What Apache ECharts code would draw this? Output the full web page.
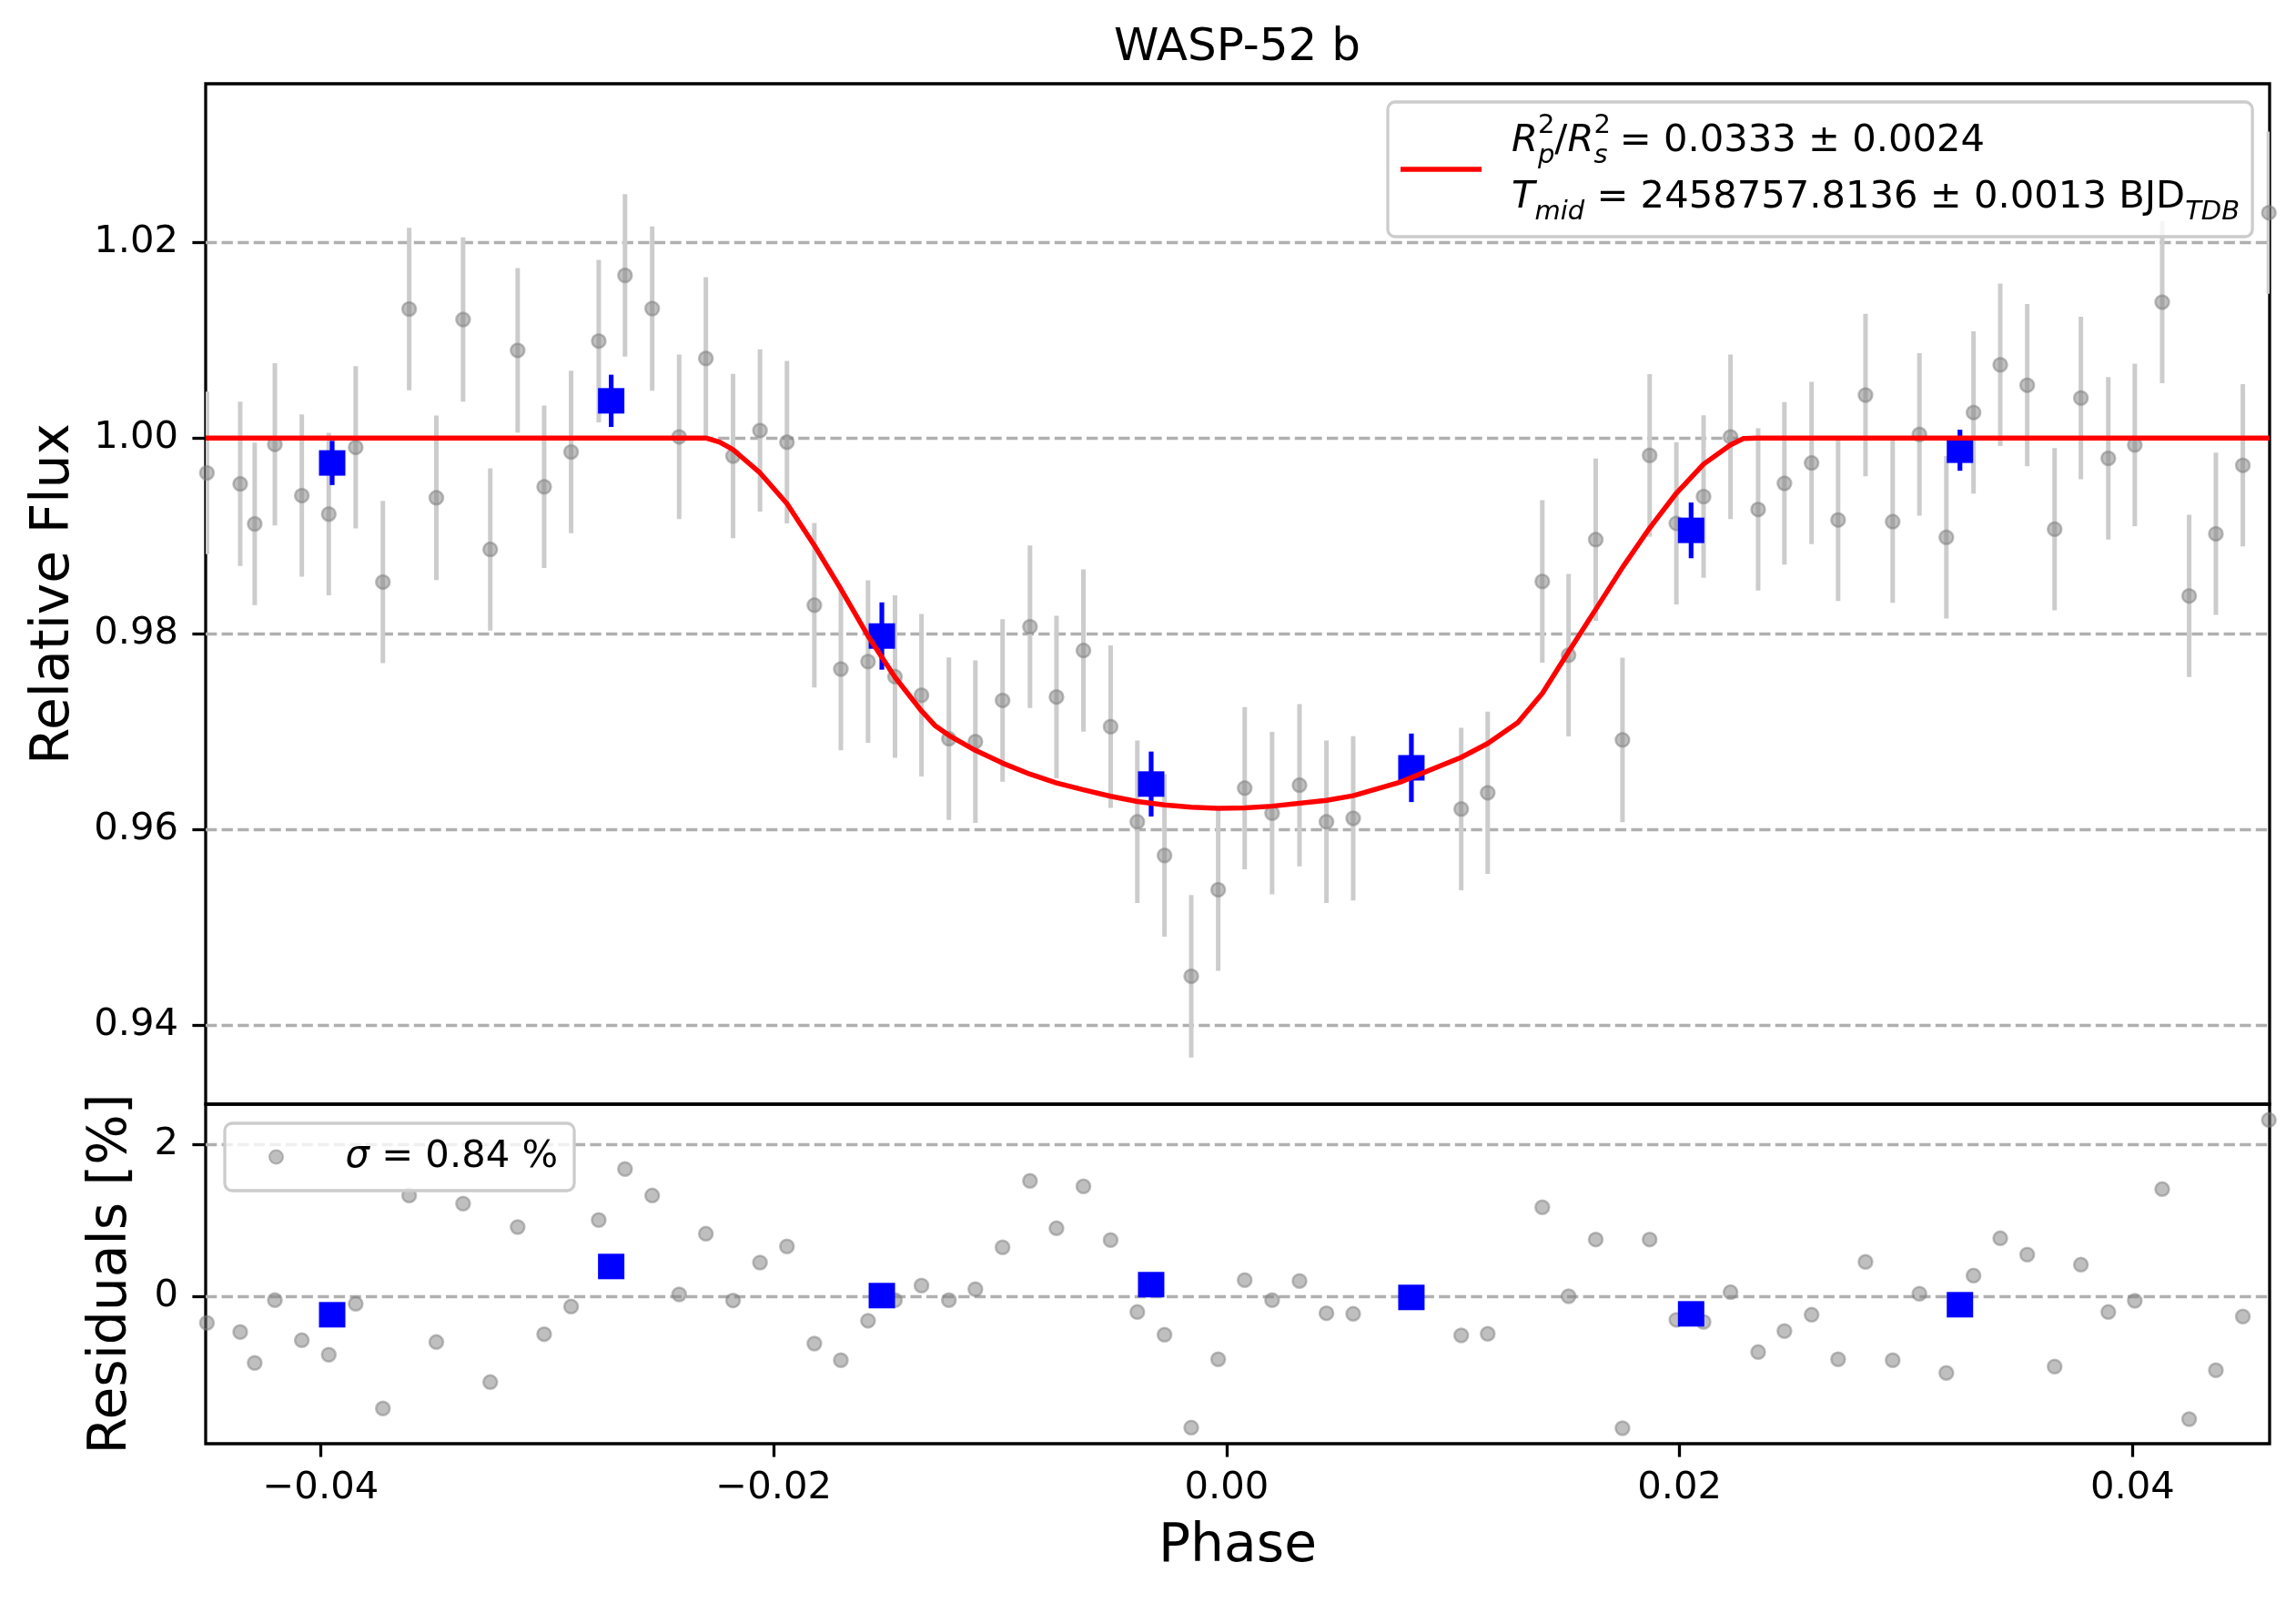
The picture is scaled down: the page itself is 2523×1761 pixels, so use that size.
<!DOCTYPE html>
<html><head><meta charset="utf-8">
<script src="https://cdn.jsdelivr.net/npm/echarts@6/dist/echarts.min.js"></script>
<style>html,body{margin:0;padding:0;background:#fff}#c{width:2523px;height:1761px}</style>
</head><body><div id="c"></div>
<script>
// ---------------- data ----------------
const phase = [-0.04502,-0.04355,-0.04291,-0.04202,-0.04083,-0.03964,-0.03845,-0.03725,-0.03609,-0.03489,
 -0.03371,-0.03251,-0.03130,-0.03013,-0.02894,-0.02772,-0.02656,-0.02536,-0.02417,-0.02299,
 -0.02179,-0.02060,-0.01941,-0.01820,-0.01703,-0.01583,-0.01464,-0.01347,-0.01226,-0.01109,
 -0.00989,-0.00868,-0.00751,-0.00632,-0.00512,-0.00394,-0.00274,-0.00156,-0.00037,0.00080,
 0.00201,0.00322,0.00441,0.00559,0.01036,0.01153,0.01394,0.01510,0.01630,0.01748,
 0.01868,0.01986,0.02106,0.02225,0.02347,0.02463,0.02583,0.02700,0.02821,0.02941,
 0.03059,0.03178,0.03298,0.03416,0.03535,0.03656,0.03772,0.03893,0.04010,0.04131,
 0.04250,0.04368,0.04487,0.04602];
const flux = [0.99644,0.99531,0.99122,0.99935,0.99412,0.99223,0.99905,0.98528,1.01318,0.99389,
 1.01211,0.98861,1.00896,0.99501,0.99858,1.00991,1.01662,1.01323,1.00012,1.00813,
 0.99816,1.00077,0.99958,0.98291,0.97638,0.97715,0.97561,0.97371,0.96926,0.96896,
 0.97318,0.98071,0.97353,0.97828,0.97050,0.96077,0.95733,0.94499,0.95383,0.96421,
 0.96166,0.96451,0.96077,0.96113,0.96208,0.96374,0.98534,0.97780,0.98961,0.96914,
 0.99822,0.99128,0.99401,1.00012,0.99270,0.99537,0.99745,0.99163,1.00439,0.99145,
 1.00036,0.98985,1.00261,1.00748,1.00540,0.99068,1.00409,0.99792,0.99929,1.01389,
 0.98386,0.99021,0.99721,1.02303];
const fluxErr = [0.0083,0.0084,0.0083,0.0083,0.0083,0.0083,0.0083,0.0083,0.0083,0.0084,
 0.0084,0.0083,0.0084,0.0083,0.0083,0.0083,0.0083,0.0084,0.0084,0.0083,
 0.0084,0.0083,0.0083,0.0084,0.0083,0.0083,0.0083,0.0083,0.0083,0.0083,
 0.0083,0.0083,0.0083,0.0083,0.0083,0.0083,0.0083,0.0083,0.0083,0.0083,
 0.0083,0.0083,0.0083,0.0084,0.0083,0.0083,0.0083,0.0083,0.0083,0.0084,
 0.0083,0.0083,0.0083,0.0084,0.0083,0.0083,0.0083,0.0083,0.0083,0.0083,
 0.0083,0.0083,0.0083,0.0083,0.0083,0.0083,0.0083,0.0083,0.0083,0.0083,
 0.0083,0.0083,0.0083,0.0083];
const resid = [-0.347,-0.467,-0.874,-0.048,-0.575,-0.766,-0.096,-1.473,1.329,-0.599,
 1.222,-1.126,0.914,-0.495,-0.132,1.006,1.677,1.329,0.028,0.826,
 -0.052,0.447,0.659,-0.619,-0.838,-0.319,-0.048,0.144,-0.048,0.096,
 0.647,1.521,0.898,1.449,0.743,-0.204,-0.503,-1.725,-0.826,0.216,
 -0.048,0.204,-0.220,-0.228,-0.511,-0.491,1.174,0.004,0.750,-1.733,
 0.750,-0.307,-0.335,0.056,-0.731,-0.455,-0.240,-0.826,0.455,-0.838,
 0.036,-1.006,0.275,0.766,0.551,-0.922,0.419,-0.204,-0.056,1.413,
 -1.613,-0.970,-0.263,2.323];

const binPhase = [-0.03949,-0.02717,-0.01522,-0.00333,0.00816,0.02051,0.03238];
const binFlux  = [0.99745,1.00380,0.97976,0.96463,0.96629,0.99056,0.99875];
const binErr   = [0.00226,0.00267,0.00344,0.00332,0.00350,0.00285,0.00210];
const binResid = [-0.240,0.395,0.012,0.156,-0.012,-0.228,-0.108];

const modelPhase = [-0.04508,-0.02299,-0.02239,-0.02179,-0.02060,-0.01941,-0.01820,-0.01703,-0.01583,-0.01464,
 -0.01347,-0.01288,-0.01226,-0.01109,-0.00989,-0.00868,-0.00751,-0.00632,-0.00512,-0.00394,
 -0.00274,-0.00156,-0.00037,0.00080,0.00201,0.00441,0.00559,0.00765,0.01036,0.01153,
 0.01286,0.01394,0.01510,0.01630,0.01748,0.01868,0.01986,0.02106,0.02225,0.02282,
 0.02340,0.04605];
const modelFlux = [1.0,1.0,0.99958,0.99881,0.99644,0.99329,0.98902,0.98457,0.97976,0.97555,
 0.97211,0.97062,0.96961,0.96807,0.96677,0.96564,0.96475,0.96404,0.96338,0.96285,
 0.96249,0.96226,0.96214,0.96220,0.96237,0.96297,0.96344,0.96481,0.96736,0.96878,
 0.97092,0.97389,0.97816,0.98249,0.98677,0.99080,0.99436,0.99733,0.99929,0.99994,
 1.0,1.0];

const xTicks = [-0.04,-0.02,0.00,0.02,0.04];
const yTicksMain = [0.94,0.96,0.98,1.00,1.02];
const yTicksRes = [0,2];

const X_MIN = -0.045075, X_MAX = 0.046052;
const Y_MIN = 0.93191, Y_MAX = 1.03621;
const R_MIN = -1.9365, R_MAX = 2.5305;

// ---------------- styling ----------------
const FONT = 'DejaVu Sans';
const TICK_FS = 41.7, LABEL_FS = 58.3;
const greyDot = {color:'rgba(128,128,128,0.5)', borderColor:'rgba(128,128,128,0.5)', borderWidth:2.5, opacity:1};
const gridLine = {show:true, lineStyle:{color:'#b0b0b0', width:3.3, type:[12.3,5.3]}};
const noLine = {show:false, onZero:false};
const tick = (vals) => ({show:true, inside:false, length:14.6, lineStyle:{color:'#000', width:3.3}, customValues:vals});
const lbl = (vals, fmt, margin) => ({show:true, margin:margin, fontSize:TICK_FS, color:'#000', fontFamily:FONT, customValues:vals, formatter:fmt});
const nameStyle = {fontSize:LABEL_FS, color:'#000', fontFamily:FONT};
const fmtX = v => (v < -1e-9 ? '\u2212' : '') + Math.abs(v).toFixed(2);

function errBar(color, width) {
  return function (params, api) {
    const x = api.value(0), y = api.value(1), e = api.value(2);
    const a = api.coord([x, y + e]), b = api.coord([x, y - e]);
    return {type:'line', shape:{x1:a[0], y1:a[1], x2:b[0], y2:b[1]}, style:{stroke:color, lineWidth:width}};
  };
}

const LEG1 = '{it|R}{sup|2}{subA|p}{n|/}{it|R}{sup|2}{subA|s}{n| = 0.0333 \u00b1 0.0024}\n' +
             '{it|T}{subB|mid}{n| = 2458757.8136 \u00b1 0.0013 BJD}{subB|TDB}';
const LEG2 = '{it|\u03c3}{n| = 0.84 %}';

const richMain = {
  n:   {fontFamily:FONT, fontSize:TICK_FS, color:'#000', lineHeight:62},
  it:  {fontFamily:FONT, fontSize:TICK_FS, fontStyle:'italic', color:'#000', lineHeight:62},
  sup: {fontFamily:FONT, fontSize:29, color:'#000', lineHeight:54, verticalAlign:'top', width:0},
  subA:{fontFamily:FONT, fontSize:29, fontStyle:'italic', color:'#000', lineHeight:29, verticalAlign:'bottom'},
  subB:{fontFamily:FONT, fontSize:29, fontStyle:'italic', color:'#000', lineHeight:38, verticalAlign:'bottom'}
};
const richRes = {
  n:  {fontFamily:FONT, fontSize:TICK_FS, color:'#000', lineHeight:50},
  it: {fontFamily:FONT, fontSize:TICK_FS, fontStyle:'italic', color:'#000', lineHeight:50}
};

const chart = echarts.init(document.getElementById('c'), null, {renderer:'canvas'});
const option = {
  animation:false,
  backgroundColor:'#ffffff',
  textStyle:{fontFamily:FONT},
  title:{text:'WASP-52 b', left:1224, top:28, padding:0,
         textStyle:{fontFamily:FONT, fontSize:50, fontWeight:'normal', color:'#000'}},
  legend:[
    {data:[{name:'transit model', icon:'rect'}], left:1525, top:112, orient:'vertical', selectedMode:false,
     padding:[12,14,12,14], itemWidth:89, itemHeight:5.5, itemGap:0,
     backgroundColor:'rgba(255,255,255,0.8)', borderColor:'#cccccc', borderWidth:3.3, borderRadius:8,
     itemStyle:{color:'#ff0000', borderWidth:0},
     formatter:() => LEG1,
     textStyle:{fontFamily:FONT, fontSize:TICK_FS, color:'#000', lineHeight:62, padding:[0,0,0,28], rich:richMain}},
    {data:['residuals'], left:247, top:1234, orient:'vertical', selectedMode:false,
     padding:[12,18,12,48], itemWidth:84, itemHeight:15, itemGap:0,
     backgroundColor:'rgba(255,255,255,0.8)', borderColor:'#cccccc', borderWidth:3.3, borderRadius:8,
     formatter:() => LEG2,
     textStyle:{fontFamily:FONT, fontSize:TICK_FS, color:'#000', lineHeight:50, padding:[0,0,0,29], rich:richRes}}
  ],
  grid:[
    {left:226, top:92, width:2268, height:1121, show:true, borderColor:'#000', borderWidth:3.3,
     backgroundColor:'transparent', containLabel:false, outerBoundsMode:'none'},
    {left:226, top:1213, width:2268, height:373, show:true, borderColor:'#000', borderWidth:3.3,
     backgroundColor:'transparent', containLabel:false, outerBoundsMode:'none'}
  ],
  xAxis:[
    {type:'value', gridIndex:0, min:X_MIN, max:X_MAX, axisLine:noLine, axisTick:{show:false},
     axisLabel:{show:false}, splitLine:{show:false}},
    {type:'value', gridIndex:1, min:X_MIN, max:X_MAX, name:'Phase', nameLocation:'middle', nameGap:85,
     nameTextStyle:nameStyle, axisLine:noLine, axisTick:tick(xTicks),
     axisLabel:lbl(xTicks, fmtX, 28), splitLine:{show:false}}
  ],
  yAxis:[
    {type:'value', gridIndex:0, min:Y_MIN, max:Y_MAX, name:'Relative Flux', nameLocation:'middle', nameGap:137,
     nameTextStyle:nameStyle, axisLine:noLine, axisTick:tick(yTicksMain),
     axisLabel:lbl(yTicksMain, v => v.toFixed(2), 30), splitLine:gridLine},
    {type:'value', gridIndex:1, min:R_MIN, max:R_MAX, name:'Residuals [%]', nameLocation:'middle', nameGap:74,
     nameTextStyle:nameStyle, axisLine:noLine, axisTick:tick(yTicksRes),
     axisLabel:lbl(yTicksRes, v => String(Math.round(v)), 30), splitLine:gridLine}
  ],
  series:[
    {name:'data err', type:'custom', xAxisIndex:0, yAxisIndex:0, z:1, silent:true, clip:true,
     renderItem:errBar('#cccccc', 5), encode:{x:0, y:1},
     data:phase.map((p, i) => [p, flux[i], fluxErr[i]])},
    {name:'data', type:'scatter', xAxisIndex:0, yAxisIndex:0, z:2, silent:true, symbol:'circle', symbolSize:15,
     itemStyle:greyDot, data:phase.map((p, i) => [p, flux[i]])},
    {name:'binned err', type:'custom', xAxisIndex:0, yAxisIndex:0, z:3, silent:true, clip:true,
     renderItem:errBar('#0000ff', 5.2), encode:{x:0, y:1},
     data:binPhase.map((p, i) => [p, binFlux[i], binErr[i]])},
    {name:'binned', type:'scatter', xAxisIndex:0, yAxisIndex:0, z:4, silent:true, symbol:'rect', symbolSize:[29,28],
     itemStyle:{color:'#0000ff', opacity:1}, data:binPhase.map((p, i) => [p, binFlux[i]])},
    {name:'transit model', type:'line', xAxisIndex:0, yAxisIndex:0, z:5, silent:true, symbol:'none', showSymbol:false,
     smooth:false, lineStyle:{color:'#ff0000', width:5.5}, itemStyle:{color:'#ff0000'},
     data:modelPhase.map((p, i) => [p, modelFlux[i]])},
    {name:'residuals', type:'scatter', xAxisIndex:1, yAxisIndex:1, z:2, silent:true, symbol:'circle', symbolSize:15,
     itemStyle:greyDot, data:phase.map((p, i) => [p, resid[i]])},
    {name:'binned residuals', type:'scatter', xAxisIndex:1, yAxisIndex:1, z:4, silent:true, symbol:'rect', symbolSize:[29,28],
     itemStyle:{color:'#0000ff', opacity:1}, data:binPhase.map((p, i) => [p, binResid[i]])}
  ]
};
chart.setOption(option);
</script>
</body></html>
